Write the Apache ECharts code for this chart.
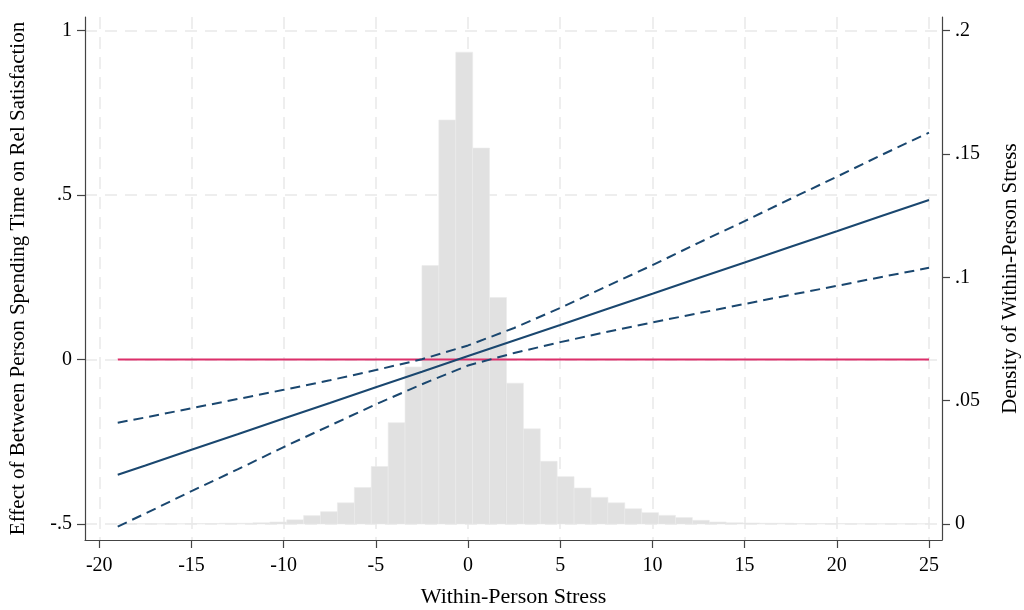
<!DOCTYPE html>
<html>
<head>
<meta charset="utf-8">
<script src="https://cdn.jsdelivr.net/npm/echarts@6/dist/echarts.min.js"></script>
<style>
  html, body { margin: 0; padding: 0; background: #fff; }
  #chart { width: 1024px; height: 610px; }
</style>
</head>
<body>
<div id="chart"></div>
<script>
// tick positions
var xTicks = [-20, -15, -10, -5, 0, 5, 10, 15, 20, 25];
var leftTicks = [-0.5, 0, 0.5, 1];
var rightTicks = [0, 0.05, 0.1, 0.15, 0.2];

// histogram of within-person stress (density), bins from -19, 48 bins
var binStart = -19;
var binWidth = 44 / 48;
var density = [
    0.0001, 0.0001, 0.0001, 0.0001, 0.0002, 0.0002, 0.0003, 0.0003,
    0.0005, 0.0008, 0.0017, 0.0034, 0.0050, 0.0086, 0.0148, 0.0233,
    0.0411, 0.0637, 0.1048, 0.1638, 0.1913, 0.1524, 0.0918, 0.0571,
    0.0386, 0.0254, 0.0192, 0.0146, 0.0108, 0.0086, 0.0062, 0.0046,
    0.0035, 0.0026, 0.0015, 0.0008, 0.0005, 0.0004, 0.0003, 0.0003,
    0.0002, 0.0002, 0.0002, 0.0001, 0.0001, 0.0001, 0.0001, 0.0001
];

// marginal effect and 95% CI
var stress = [-19, -17.5, -15, -12.5, -10, -7.5, -5, -2.5, 0, 2.5, 5, 7.5, 10, 12.5, 15, 17.5, 20, 22.5, 25];
var effect = [-0.350, -0.322, -0.274, -0.227, -0.179, -0.132, -0.084, -0.037, 0.011, 0.058, 0.105, 0.153, 0.200, 0.248, 0.295, 0.343, 0.390, 0.438, 0.485];
var upper = [-0.192, -0.176, -0.148, -0.120, -0.092, -0.063, -0.032, 0.001, 0.043, 0.096, 0.157, 0.222, 0.287, 0.355, 0.421, 0.489, 0.556, 0.624, 0.690];
var lower = [-0.508, -0.468, -0.400, -0.334, -0.266, -0.201, -0.136, -0.075, -0.018, 0.020, 0.053, 0.084, 0.113, 0.141, 0.169, 0.197, 0.224, 0.252, 0.279];

// reference line at zero
var refX = [-19, 25];
var refY = [0, 0];

function pairs(xs, ys) {
    return xs.map(function (x, i) { return [x, ys[i]]; });
}
function stataLabel(v) {
    return String(v).replace('0.', '.');
}

var histData = density.map(function (d, i) {
    return [binStart + i * binWidth, binStart + (i + 1) * binWidth, d];
});

var font = 'Liberation Serif';
var gridLine = { show: true, lineStyle: { color: '#e9e9e9', width: 1.5, type: [12, 8] } };
var axisCol = '#444';
var navy = '#1a476f';

var chart = echarts.init(document.getElementById('chart'));
var option = {
    animation: false,
    backgroundColor: '#fff',
    textStyle: { fontFamily: font, color: '#000' },
    grid: { left: 85, right: 82, top: 17, bottom: 70, outerBoundsMode: 'none' },
    xAxis: {
        type: 'value',
        min: -20.775, max: 25.705,
        name: 'Within-Person Stress',
        nameLocation: 'middle', nameGap: 46,
        nameTextStyle: { fontFamily: font, fontSize: 22, color: '#000' },
        axisLine: { onZero: false, lineStyle: { color: axisCol, width: 1.2 } },
        axisTick: { customValues: xTicks, length: 8, lineStyle: { color: axisCol, width: 1.2 } },
        axisLabel: { customValues: xTicks, fontFamily: font, fontSize: 20, color: '#000', margin: 16 },
        splitLine: gridLine
    },
    yAxis: [{
        type: 'value',
        min: -0.5486, max: 1.0416,
        name: 'Effect of Between Person Spending Time on Rel Satisfaction',
        nameLocation: 'middle', nameGap: 56, nameRotate: 90,
        nameTextStyle: { fontFamily: font, fontSize: 21, color: '#000' },
        axisLine: { show: true, onZero: false, lineStyle: { color: axisCol, width: 1.2 } },
        axisTick: { show: true, customValues: leftTicks, length: 8, lineStyle: { color: axisCol, width: 1.2 } },
        axisLabel: { customValues: leftTicks, fontFamily: font, fontSize: 20, color: '#000', margin: 13, formatter: stataLabel },
        splitLine: gridLine
    }, {
        type: 'value',
        position: 'right',
        min: -0.00648, max: 0.20555,
        name: 'Density of Within-Person Stress',
        nameLocation: 'middle', nameGap: 58, nameRotate: 90,
        nameTextStyle: { fontFamily: font, fontSize: 21, color: '#000' },
        axisLine: { show: true, onZero: false, lineStyle: { color: axisCol, width: 1.2 } },
        axisTick: { show: true, customValues: rightTicks, length: 8, lineStyle: { color: axisCol, width: 1.2 } },
        axisLabel: { customValues: rightTicks, fontFamily: font, fontSize: 20, color: '#000', margin: 13, formatter: stataLabel },
        splitLine: { show: false }
    }],
    series: [{
        type: 'custom',
        name: 'Density',
        yAxisIndex: 1,
        data: histData,
        encode: { x: [0, 1], y: 2 },
        renderItem: function (params, api) {
            var p0 = api.coord([api.value(0), api.value(2)]);
            var p1 = api.coord([api.value(1), 0]);
            return {
                type: 'rect',
                shape: { x: p0[0], y: p0[1], width: p1[0] - p0[0], height: p1[1] - p0[1] },
                style: { fill: '#e1e1e1', stroke: '#ebebeb', lineWidth: 0.6 }
            };
        },
        z: 1
    }, {
        type: 'line', name: 'Zero', data: pairs(refX, refY), symbol: 'none',
        lineStyle: { color: '#dc2f6a', width: 2 }, z: 3
    }, {
        type: 'line', name: 'Upper', data: pairs(stress, upper), symbol: 'none',
        lineStyle: { color: navy, width: 2, type: [10, 6] }, z: 4
    }, {
        type: 'line', name: 'Lower', data: pairs(stress, lower), symbol: 'none',
        lineStyle: { color: navy, width: 2, type: [10, 6] }, z: 4
    }, {
        type: 'line', name: 'Effect', data: pairs(stress, effect), symbol: 'none',
        lineStyle: { color: navy, width: 2 }, z: 4
    }]
};
chart.setOption(option);
</script>
</body>
</html>
